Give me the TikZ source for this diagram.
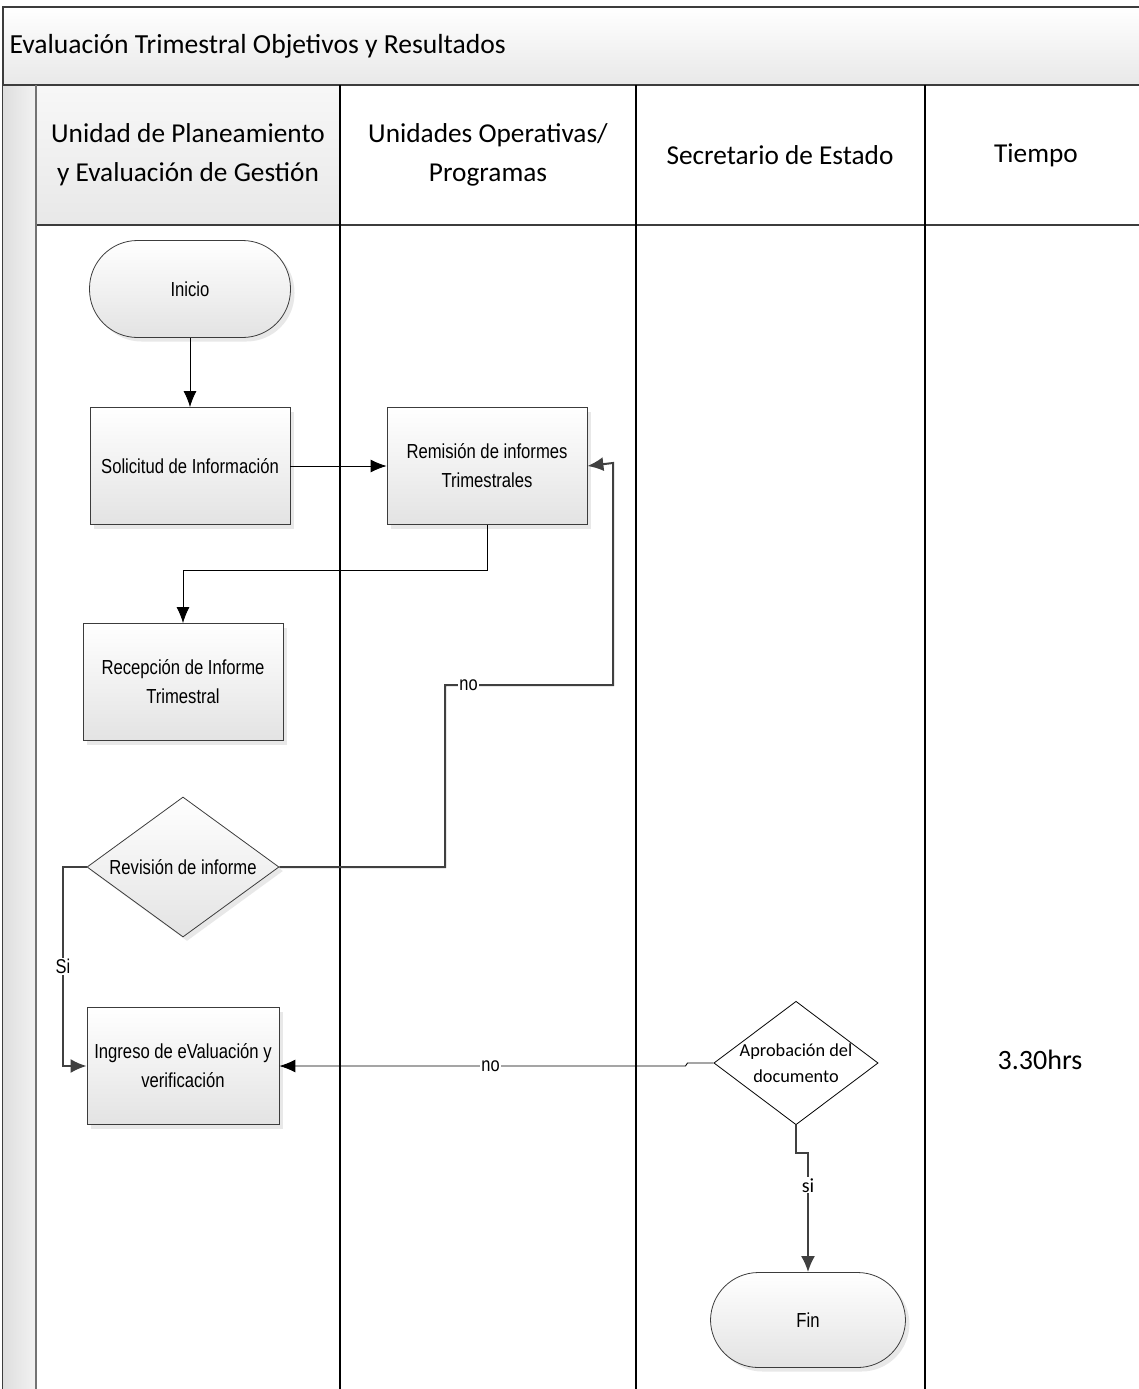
\documentclass[tikz,border=0pt]{standalone}
\usepackage{fontspec}
\setmainfont{Carlito}
\newfontfamily\narrowfont{Liberation Sans}[FakeStretch=0.82]
\usetikzlibrary{shapes.geometric,shadows,arrows.meta}
\definecolor{frame}{HTML}{3C3C3C}
\definecolor{conn}{HTML}{404040}
\tikzset{
  box/.style={draw=frame, line width=0.8pt, top color=white, bottom color=black!11,
    drop shadow={shadow xshift=4pt, shadow yshift=-4pt, opacity=0.15, fill=black!60},
    minimum width=200pt, minimum height=117pt, align=center, inner sep=2pt,
    font=\narrowfont\fontsize{20.3}{29}\selectfont},
  term/.style={box, rounded corners=48pt, minimum width=201pt, minimum height=97pt},
  decision/.style={box, diamond, aspect=1.37, inner sep=0pt},
  lanehead/.style={align=center, font=\fontsize{27.3}{39}\selectfont},
  thin/.style={draw=black, line width=0.9pt, -{Latex[length=16pt,width=13pt]}},
  thick/.style={draw=conn, line width=2pt, -{Latex[length=16pt,width=14pt]}},
  lbl/.style={fill=white, inner sep=1pt, font=\narrowfont\fontsize{20}{22}\selectfont},
}
\begin{document}
\begin{tikzpicture}[x=1pt,y=-1pt]
\useasboundingbox (0,0) rectangle (1139,1389);
% title band
\shade[top color=white, bottom color=black!9] (3,7) rectangle (1139,85);
\draw[frame, line width=1.5pt] (3,1389) -- (3,7) -- (1139,7);
\node[anchor=west, font=\fontsize{27.6}{32}\selectfont] (title) at (6,46) {Evaluación Trimestral Objetivos y Resultados};
% left strip and first lane header
\shade[left color=black!13, right color=black!5] (3,85) rectangle (36,1389);
\shade[top color=black!3, bottom color=black!9] (36,85) rectangle (340,225);
\draw[frame, line width=1.8pt] (3,85) -- (1139,85);
\draw[frame, line width=1.8pt] (36,225) -- (1139,225);
\draw[black!55, line width=1.5pt] (36,85) -- (36,1389);
\draw[black, line width=1.8pt] (340,85) -- (340,1389);
\draw[black, line width=1.8pt] (636,85) -- (636,1389);
\draw[black, line width=1.8pt] (925,85) -- (925,1389);
% lane headers
\node[lanehead] (h1) at (188,155) {Unidad de Planeamiento\\y Evaluación de Gestión};
\node[lanehead] (h2) at (488,155) {Unidades Operativas/\\Programas};
\node[lanehead] (h3) at (780,155) {Secretario de Estado};
\node[lanehead] (h4) at (1036,155) {Tiempo};
% flow nodes
\node[term] (ini) at (190,289) {Inicio};
\node[box] (sol) at (190,466) {Solicitud de Información};
\node[box] (rem) at (487,466) {Remisión de informes\\Trimestrales};
\node[box] (rec) at (183,682) {Recepción de Informe\\Trimestral};
\node[decision, minimum width=192pt, minimum height=140pt] (rev) at (183,867) {Revisión de informe};
\node[box, minimum width=192pt] (ing) at (183,1066) {Ingreso de eValuación y\\verificación};
\node[draw=black, line width=0.8pt, fill=white, diamond, aspect=1.33, inner sep=0pt,
      minimum width=159pt, minimum height=120pt, align=center,
      font=\fontsize{18.3}{26}\selectfont] (apr) at (796,1063) {Aprobación del\\documento};
\node[term, minimum width=195pt, minimum height=95pt] (fin) at (808,1320) {Fin};
\node[font=\fontsize{28}{32}\selectfont] (tm) at (1040,1060) {3.30hrs};
% connectors
\draw[thin] (ini) -- (sol);
\draw[thin] (sol) -- (rem);
\draw[thin] (rem.south) -- ++(0,46) -| (rec.north);
\draw[thick] (rev.east) -- (445,867) -- (445,685) -- node[lbl, pos=0.14] {no} (613,685) -- (613,463) -- (rem.east);
\draw[thick] (rev.west) -- (63,867) -- node[lbl, pos=0.5] {Si} (63,1066) -- (ing.west);
\draw[thin] (apr.west) -- ++(-26,0) -- ++(-2,3) -- node[lbl, pos=0.48] {no} (ing.east);
\draw[thick] (apr.south) -- ++(0,28) -- ++(12,0) -- node[lbl, pos=0.27, font=\fontsize{20}{22}\selectfont] {si} (fin.north);
\end{tikzpicture}
\end{document}
